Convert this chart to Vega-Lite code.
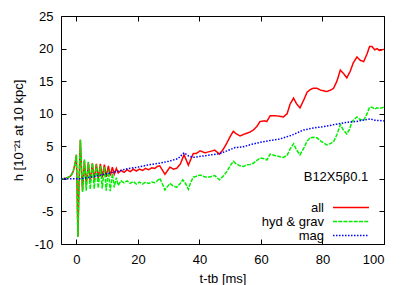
{
  "$schema": "https://vega.github.io/schema/vega-lite/v6.json",
  "width": 323,
  "height": 228,
  "autosize": "none",
  "padding": {"left": 61, "top": 16, "right": 23, "bottom": 41},
  "config": {
    "font": "Liberation Sans",
    "view": {"stroke": "black", "strokeWidth": 1},
    "axis": {"labelFontSize": 13, "labelColor": "black", "titleFontSize": 13, "titleFontWeight": "normal", "titleColor": "black", "tickColor": "black", "domainColor": "black", "grid": false, "tickSize": 5, "offset": -5, "labelFont": "Liberation Sans", "titleFont": "Liberation Sans"}
  },
  "datasets": {
    "curves": [
      {"s": "all", "t": -5, "h": 0}, {"s": "all", "t": -4, "h": 0.05}, {"s": "all", "t": -3, "h": 0.15}, {"s": "all", "t": -2, "h": 0.4}, {"s": "all", "t": -1.5, "h": 0.7}, {"s": "all", "t": -1, "h": 1.2}, {"s": "all", "t": -0.5, "h": 2.2}, {"s": "all", "t": -0.2, "h": 3.0}, {"s": "all", "t": 0, "h": 3.7}, {"s": "all", "t": 0.25, "h": -2}, {"s": "all", "t": 0.5, "h": -8.9}, {"s": "all", "t": 0.9, "h": 0}, {"s": "all", "t": 1.3, "h": 6.0}, {"s": "all", "t": 1.7, "h": 1}, {"s": "all", "t": 2.0, "h": -1.8}, {"s": "all", "t": 2.6, "h": 2.8}, {"s": "all", "t": 3.2, "h": -1.0}, {"s": "all", "t": 3.9, "h": 2.5}, {"s": "all", "t": 4.5, "h": -0.5}, {"s": "all", "t": 5.2, "h": 2.4}, {"s": "all", "t": 5.8, "h": -0.2}, {"s": "all", "t": 6.5, "h": 2.3}, {"s": "all", "t": 7.1, "h": 0}, {"s": "all", "t": 7.8, "h": 2.3}, {"s": "all", "t": 8.4, "h": 0.2}, {"s": "all", "t": 9.1, "h": 2.2}, {"s": "all", "t": 9.7, "h": 0.3}, {"s": "all", "t": 10.4, "h": 2.0}, {"s": "all", "t": 11.0, "h": 0.5}, {"s": "all", "t": 11.7, "h": 1.8}, {"s": "all", "t": 12.3, "h": 0.7}, {"s": "all", "t": 13.0, "h": 1.6}, {"s": "all", "t": 13.6, "h": 0.9}, {"s": "all", "t": 14.5, "h": 1.3}, {"s": "all", "t": 15.5, "h": 1.0}, {"s": "all", "t": 16.5, "h": 1.4}, {"s": "all", "t": 17.5, "h": 1.1}, {"s": "all", "t": 18.5, "h": 1.5}, {"s": "all", "t": 19.5, "h": 1.2}, {"s": "all", "t": 20.5, "h": 1.5}, {"s": "all", "t": 21.5, "h": 1.3}, {"s": "all", "t": 22.5, "h": 1.6}, {"s": "all", "t": 23.5, "h": 1.4}, {"s": "all", "t": 24.5, "h": 1.7}, {"s": "all", "t": 25.5, "h": 1.6}, {"s": "all", "t": 26.3, "h": 1.9}, {"s": "all", "t": 27.1, "h": 2.0}, {"s": "all", "t": 28.8, "h": 0.7}, {"s": "all", "t": 30.4, "h": 1.8}, {"s": "all", "t": 31.5, "h": 1.5}, {"s": "all", "t": 32.6, "h": 1.6}, {"s": "all", "t": 33.8, "h": 2.3}, {"s": "all", "t": 35, "h": 3.7}, {"s": "all", "t": 36.4, "h": 2.1}, {"s": "all", "t": 38, "h": 3.9}, {"s": "all", "t": 39, "h": 3.9}, {"s": "all", "t": 40.2, "h": 4.3}, {"s": "all", "t": 41.8, "h": 4.0}, {"s": "all", "t": 43.4, "h": 4.2}, {"s": "all", "t": 45, "h": 4.4}, {"s": "all", "t": 46.5, "h": 3.8}, {"s": "all", "t": 47.7, "h": 4.5}, {"s": "all", "t": 48.9, "h": 5.5}, {"s": "all", "t": 50, "h": 6.5}, {"s": "all", "t": 51, "h": 7.3}, {"s": "all", "t": 52, "h": 6.9}, {"s": "all", "t": 53.2, "h": 6.6}, {"s": "all", "t": 54.3, "h": 6.8}, {"s": "all", "t": 55.4, "h": 7.0}, {"s": "all", "t": 56.5, "h": 7.2}, {"s": "all", "t": 57.5, "h": 7.5}, {"s": "all", "t": 58.6, "h": 8.0}, {"s": "all", "t": 59.7, "h": 8.8}, {"s": "all", "t": 61, "h": 8.9}, {"s": "all", "t": 61.9, "h": 8.8}, {"s": "all", "t": 63, "h": 9.7}, {"s": "all", "t": 64.5, "h": 9.7}, {"s": "all", "t": 66.2, "h": 9.6}, {"s": "all", "t": 67.3, "h": 9.5}, {"s": "all", "t": 68.5, "h": 10.0}, {"s": "all", "t": 69.5, "h": 11.5}, {"s": "all", "t": 70.6, "h": 12.4}, {"s": "all", "t": 71.6, "h": 11.5}, {"s": "all", "t": 72.7, "h": 10.9}, {"s": "all", "t": 74, "h": 12.2}, {"s": "all", "t": 75, "h": 13.3}, {"s": "all", "t": 76, "h": 13.7}, {"s": "all", "t": 77, "h": 13.9}, {"s": "all", "t": 78.2, "h": 13.9}, {"s": "all", "t": 79.5, "h": 13.6}, {"s": "all", "t": 81.4, "h": 13.4}, {"s": "all", "t": 82.5, "h": 13.6}, {"s": "all", "t": 83.6, "h": 13.9}, {"s": "all", "t": 84.7, "h": 15.0}, {"s": "all", "t": 85.8, "h": 16.7}, {"s": "all", "t": 86.8, "h": 16.2}, {"s": "all", "t": 87.9, "h": 15.5}, {"s": "all", "t": 89, "h": 16.5}, {"s": "all", "t": 90, "h": 17.8}, {"s": "all", "t": 91.2, "h": 18.7}, {"s": "all", "t": 92.3, "h": 18.2}, {"s": "all", "t": 93.4, "h": 18.0}, {"s": "all", "t": 94.5, "h": 19.2}, {"s": "all", "t": 95.3, "h": 20.3}, {"s": "all", "t": 96.1, "h": 20.3}, {"s": "all", "t": 97, "h": 19.8}, {"s": "all", "t": 97.7, "h": 20.0}, {"s": "all", "t": 98.5, "h": 19.7}, {"s": "all", "t": 100, "h": 19.9},

      {"s": "hyd & grav", "t": -5, "h": 0}, {"s": "hyd & grav", "t": -4, "h": 0.05}, {"s": "hyd & grav", "t": -3, "h": 0.15}, {"s": "hyd & grav", "t": -2, "h": 0.4}, {"s": "hyd & grav", "t": -1.5, "h": 0.7}, {"s": "hyd & grav", "t": -1, "h": 1.2}, {"s": "hyd & grav", "t": -0.5, "h": 2.2}, {"s": "hyd & grav", "t": -0.2, "h": 3.0}, {"s": "hyd & grav", "t": 0, "h": 3.7}, {"s": "hyd & grav", "t": 0.25, "h": -2}, {"s": "hyd & grav", "t": 0.5, "h": -8.9}, {"s": "hyd & grav", "t": 0.9, "h": 0}, {"s": "hyd & grav", "t": 1.3, "h": 6.0}, {"s": "hyd & grav", "t": 1.7, "h": 1}, {"s": "hyd & grav", "t": 2.0, "h": -2.0}, {"s": "hyd & grav", "t": 2.6, "h": 3.0}, {"s": "hyd & grav", "t": 3.2, "h": -1.8}, {"s": "hyd & grav", "t": 3.9, "h": 2.6}, {"s": "hyd & grav", "t": 4.5, "h": -1.6}, {"s": "hyd & grav", "t": 5.2, "h": 2.4}, {"s": "hyd & grav", "t": 5.8, "h": -1.5}, {"s": "hyd & grav", "t": 6.5, "h": 2.2}, {"s": "hyd & grav", "t": 7.1, "h": -1.4}, {"s": "hyd & grav", "t": 7.8, "h": 2.0}, {"s": "hyd & grav", "t": 8.4, "h": -1.5}, {"s": "hyd & grav", "t": 9.1, "h": 1.8}, {"s": "hyd & grav", "t": 9.7, "h": -1.8}, {"s": "hyd & grav", "t": 10.4, "h": 1.4}, {"s": "hyd & grav", "t": 11.0, "h": -1.9}, {"s": "hyd & grav", "t": 11.7, "h": 0.8}, {"s": "hyd & grav", "t": 12.3, "h": -1.3}, {"s": "hyd & grav", "t": 13.0, "h": 0.2}, {"s": "hyd & grav", "t": 13.6, "h": -1.0}, {"s": "hyd & grav", "t": 14.5, "h": -0.3}, {"s": "hyd & grav", "t": 15.5, "h": -0.6}, {"s": "hyd & grav", "t": 16.5, "h": -0.3}, {"s": "hyd & grav", "t": 17.5, "h": -0.7}, {"s": "hyd & grav", "t": 18.5, "h": -0.4}, {"s": "hyd & grav", "t": 19.5, "h": -0.8}, {"s": "hyd & grav", "t": 20.5, "h": -0.5}, {"s": "hyd & grav", "t": 21.5, "h": -0.8}, {"s": "hyd & grav", "t": 22.5, "h": -0.5}, {"s": "hyd & grav", "t": 23.5, "h": -0.7}, {"s": "hyd & grav", "t": 24.5, "h": -0.5}, {"s": "hyd & grav", "t": 25.5, "h": -0.6}, {"s": "hyd & grav", "t": 26.3, "h": -0.3}, {"s": "hyd & grav", "t": 27.1, "h": 0.1}, {"s": "hyd & grav", "t": 28.8, "h": -1.7}, {"s": "hyd & grav", "t": 30.4, "h": -0.7}, {"s": "hyd & grav", "t": 31.5, "h": -1.1}, {"s": "hyd & grav", "t": 32.6, "h": -1.3}, {"s": "hyd & grav", "t": 33.6, "h": -0.8}, {"s": "hyd & grav", "t": 34.6, "h": -0.15}, {"s": "hyd & grav", "t": 35.5, "h": -0.7}, {"s": "hyd & grav", "t": 36.4, "h": -1.6}, {"s": "hyd & grav", "t": 37.2, "h": -0.5}, {"s": "hyd & grav", "t": 38, "h": 0.26}, {"s": "hyd & grav", "t": 39, "h": 0.4}, {"s": "hyd & grav", "t": 40.2, "h": 0.6}, {"s": "hyd & grav", "t": 41.8, "h": 0.3}, {"s": "hyd & grav", "t": 43.4, "h": 0.3}, {"s": "hyd & grav", "t": 45, "h": 0.5}, {"s": "hyd & grav", "t": 46.5, "h": -0.15}, {"s": "hyd & grav", "t": 47.7, "h": 0.4}, {"s": "hyd & grav", "t": 48.9, "h": 1.1}, {"s": "hyd & grav", "t": 50, "h": 2.0}, {"s": "hyd & grav", "t": 51, "h": 2.7}, {"s": "hyd & grav", "t": 52, "h": 2.3}, {"s": "hyd & grav", "t": 53.2, "h": 2.0}, {"s": "hyd & grav", "t": 54.3, "h": 1.9}, {"s": "hyd & grav", "t": 55.4, "h": 2.15}, {"s": "hyd & grav", "t": 56.5, "h": 2.2}, {"s": "hyd & grav", "t": 57.5, "h": 2.4}, {"s": "hyd & grav", "t": 58.6, "h": 2.8}, {"s": "hyd & grav", "t": 59.7, "h": 3.2}, {"s": "hyd & grav", "t": 61, "h": 3.1}, {"s": "hyd & grav", "t": 61.9, "h": 2.9}, {"s": "hyd & grav", "t": 63, "h": 3.8}, {"s": "hyd & grav", "t": 64.5, "h": 3.6}, {"s": "hyd & grav", "t": 66.2, "h": 3.4}, {"s": "hyd & grav", "t": 67.3, "h": 3.3}, {"s": "hyd & grav", "t": 68.5, "h": 3.6}, {"s": "hyd & grav", "t": 69.5, "h": 4.6}, {"s": "hyd & grav", "t": 70.6, "h": 5.4}, {"s": "hyd & grav", "t": 71.6, "h": 4.4}, {"s": "hyd & grav", "t": 72.7, "h": 3.7}, {"s": "hyd & grav", "t": 74, "h": 4.8}, {"s": "hyd & grav", "t": 75, "h": 5.8}, {"s": "hyd & grav", "t": 76, "h": 6.3}, {"s": "hyd & grav", "t": 77, "h": 6.4}, {"s": "hyd & grav", "t": 78.2, "h": 6.3}, {"s": "hyd & grav", "t": 79.5, "h": 5.8}, {"s": "hyd & grav", "t": 81.4, "h": 5.2}, {"s": "hyd & grav", "t": 82.5, "h": 5.4}, {"s": "hyd & grav", "t": 83.6, "h": 5.7}, {"s": "hyd & grav", "t": 84.7, "h": 6.8}, {"s": "hyd & grav", "t": 85.8, "h": 8.3}, {"s": "hyd & grav", "t": 86.8, "h": 7.5}, {"s": "hyd & grav", "t": 87.9, "h": 6.9}, {"s": "hyd & grav", "t": 88.8, "h": 7.6}, {"s": "hyd & grav", "t": 89.6, "h": 8.8}, {"s": "hyd & grav", "t": 91.2, "h": 9.5}, {"s": "hyd & grav", "t": 92.3, "h": 9.1}, {"s": "hyd & grav", "t": 93.4, "h": 9.0}, {"s": "hyd & grav", "t": 94.5, "h": 10.0}, {"s": "hyd & grav", "t": 95.3, "h": 11.0}, {"s": "hyd & grav", "t": 96.1, "h": 11.0}, {"s": "hyd & grav", "t": 97, "h": 10.7}, {"s": "hyd & grav", "t": 97.7, "h": 10.9}, {"s": "hyd & grav", "t": 98.5, "h": 10.8}, {"s": "hyd & grav", "t": 100, "h": 11.0},

      {"s": "mag", "t": -5, "h": 0}, {"s": "mag", "t": 0, "h": 0}, {"s": "mag", "t": 2, "h": 0.05}, {"s": "mag", "t": 5, "h": 0.3}, {"s": "mag", "t": 8, "h": 0.6}, {"s": "mag", "t": 10, "h": 0.8}, {"s": "mag", "t": 13, "h": 1.1}, {"s": "mag", "t": 16, "h": 1.5}, {"s": "mag", "t": 20, "h": 1.8}, {"s": "mag", "t": 24, "h": 2.2}, {"s": "mag", "t": 27, "h": 2.4}, {"s": "mag", "t": 30, "h": 2.7}, {"s": "mag", "t": 33, "h": 3.1}, {"s": "mag", "t": 35, "h": 4.0}, {"s": "mag", "t": 36.5, "h": 3.5}, {"s": "mag", "t": 38, "h": 3.3}, {"s": "mag", "t": 41, "h": 3.5}, {"s": "mag", "t": 44, "h": 3.7}, {"s": "mag", "t": 46.7, "h": 3.9}, {"s": "mag", "t": 49, "h": 4.3}, {"s": "mag", "t": 51.6, "h": 4.8}, {"s": "mag", "t": 54, "h": 4.9}, {"s": "mag", "t": 57, "h": 5.3}, {"s": "mag", "t": 59.7, "h": 5.6}, {"s": "mag", "t": 63, "h": 5.9}, {"s": "mag", "t": 66, "h": 6.1}, {"s": "mag", "t": 70, "h": 6.7}, {"s": "mag", "t": 73.8, "h": 7.5}, {"s": "mag", "t": 77, "h": 7.8}, {"s": "mag", "t": 80, "h": 8.0}, {"s": "mag", "t": 84.7, "h": 8.4}, {"s": "mag", "t": 88, "h": 8.7}, {"s": "mag", "t": 91, "h": 8.8}, {"s": "mag", "t": 93, "h": 9.0}, {"s": "mag", "t": 95.5, "h": 9.2}, {"s": "mag", "t": 97, "h": 9.0}, {"s": "mag", "t": 100, "h": 8.9}
    ],
    "note": [{"label": "B12X5β0.1"}]
  },
  "layer": [
    {
      "data": {"name": "curves"},
      "mark": {"type": "line", "strokeWidth": 1.5, "clip": true},
      "encoding": {
        "x": {"field": "t", "type": "quantitative", "scale": {"domain": [-5, 100], "nice": false, "zero": false},
              "axis": {"orient": "bottom", "values": [0, 20, 40, 60, 80, 100], "title": "t-tb [ms]", "labelPadding": 9, "titlePadding": 6, "domain": false, "labelExpr": "'' + datum.value"}},
        "y": {"field": "h", "type": "quantitative", "scale": {"domain": [-10, 25], "nice": false, "zero": false},
              "axis": {"orient": "left", "values": [-10, -5, 0, 5, 10, 15, 20, 25], "title": "h [10⁻²¹ at 10 kpc]", "labelPadding": 8, "titlePadding": 9, "domain": false, "labelExpr": "'' + datum.value"}},
        "color": {"field": "s", "type": "nominal",
                  "scale": {"domain": ["all", "hyd & grav", "mag"], "range": ["#ff0000", "#00ee00", "#0000ff"]},
                  "legend": {"orient": "none", "legendX": 187, "legendY": 185, "title": null, "labelFont": "Liberation Sans", "labelFontSize": 13, "labelColor": "black", "labelAlign": "right", "symbolType": "M-1,0M0.4,0L1,0", "symbolSize": 14400, "symbolStrokeWidth": 1.5, "symbolOffset": 0, "labelOffset": -46, "rowPadding": 0, "padding": 0,
                             "encode": {"symbols": {"update": {"y": {"value": 6.5}, "stroke": {"scale": "color", "field": "value"}, "strokeDash": {"scale": "strokeDash", "field": "value"}, "fill": {"value": "transparent"}, "strokeWidth": {"value": 1.5}, "opacity": {"value": 1}}},
                                        "labels": {"update": {"y": {"value": 6.5}}}}}},
        "strokeDash": {"field": "s", "type": "nominal",
                       "scale": {"domain": ["all", "hyd & grav", "mag"], "range": [[1, 0], [4, 1.2], [1.5, 1.5]]},
                       "legend": {"title": null}}
      }
    },
    {
      "data": {"name": "curves"},
      "mark": {"type": "line", "opacity": 0},
      "encoding": {
        "x": {"field": "t", "type": "quantitative", "scale": {"domain": [-5, 100], "nice": false, "zero": false},
              "axis": {"orient": "top", "values": [0, 20, 40, 60, 80, 100], "labels": false, "title": null, "domain": false}},
        "y": {"field": "h", "type": "quantitative", "scale": {"domain": [-10, 25], "nice": false, "zero": false},
              "axis": {"orient": "right", "values": [-10, -5, 0, 5, 10, 15, 20, 25], "labels": false, "title": null, "domain": false}}
      }
    },
    {
      "data": {"name": "note"},
      "mark": {"type": "text", "align": "right", "baseline": "middle", "font": "Liberation Sans", "fontSize": 13, "color": "black"},
      "encoding": {
        "text": {"field": "label", "type": "nominal"},
        "x": {"datum": 94.9, "type": "quantitative", "axis": null},
        "y": {"datum": 0.3, "type": "quantitative", "axis": null}
      }
    }
  ],
  "resolve": {"axis": {"x": "independent", "y": "independent"}}
}
